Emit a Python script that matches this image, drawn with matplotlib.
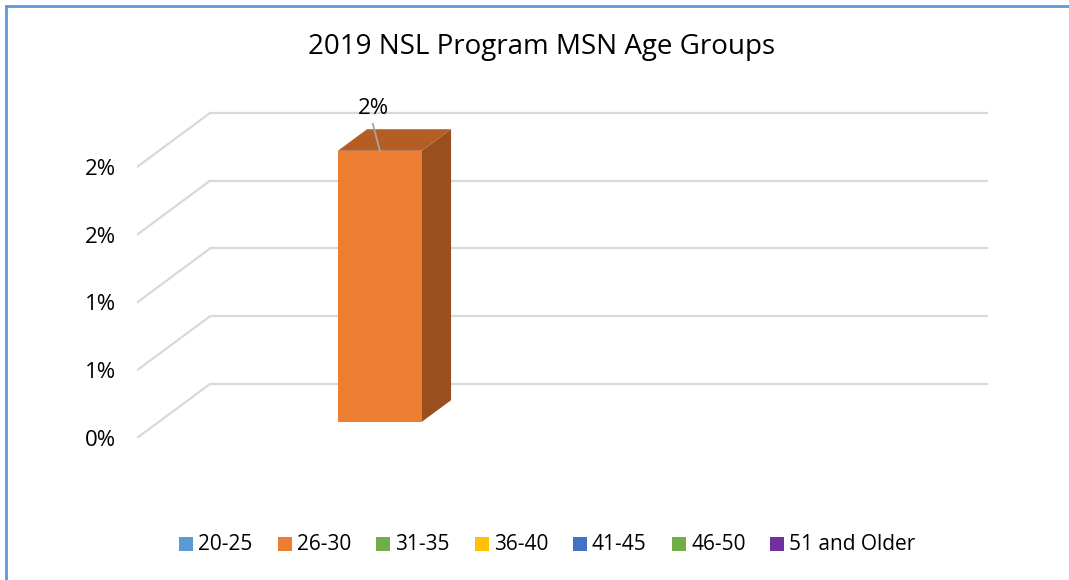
import matplotlib
matplotlib.use("Agg")
import matplotlib.pyplot as plt
from matplotlib.patches import Polygon, Rectangle
from matplotlib.lines import Line2D

# ---- data ----
title = "2019 NSL Program MSN Age Groups"
series_names = ["20-25", "26-30", "31-35", "36-40", "41-45", "46-50", "51 and Older"]
series_values = [None, 0.02, None, None, None, None, None]   # only 26-30 has a value
series_colors = ["#5B9BD5", "#ED7D31", "#70AD47", "#FFC000", "#4472C4", "#70AD47", "#7030A0"]
side_colors = ["#3F75A6", "#9A4F1E", "#527F33", "#BF9000", "#2F5597", "#527F33", "#52237A"]
top_colors = ["#4D86BB", "#B45E26", "#5F943D", "#D9A300", "#3A63AE", "#5F943D", "#612A8D"]
tick_values = [0.0, 0.005, 0.01, 0.015, 0.02]
tick_labels = ["0%", "1%", "1%", "2%", "2%"]
data_labels = ["", "2%", "", "", "", "", ""]

W, H, DPI = 1069, 580, 100
fig = plt.figure(figsize=(W / DPI, H / DPI), dpi=DPI)
fig.patch.set_facecolor("white")

FONT = ["Open Sans", "DejaVu Sans"]

# chart border (top + left visible)
fig.add_artist(Line2D([6 / W, 1.0], [1 - 6 / H, 1 - 6 / H], color="#5B9BD5", lw=2, transform=fig.transFigure))
fig.add_artist(Line2D([6 / W, 6 / W], [0, 1 - 6 / H], color="#5B9BD5", lw=2, transform=fig.transFigure))

# axes geometry (front plane: x 137->915 px, 0% at y=438, 2% at y=167)
px_per_unit_y = 271 / 0.02
x_left, x_right_back = 137, 988
front_w = 778
ymax = 0.0245
ax_h = ymax * px_per_unit_y
ax = fig.add_axes([x_left / W, (H - 438) / H, (x_right_back - x_left) / W, ax_h / H])
dx = 73 / front_w           # depth offset in x data units
dy = 54 / px_per_unit_y     # depth offset in y data units
ax.set_xlim(0, 1 + dx)
ax.set_ylim(0, ymax)
for s in ax.spines.values():
    s.set_visible(False)
ax.set_xticks([])
ax.set_yticks(tick_values)
ax.set_yticklabels(tick_labels, fontsize=16, family=FONT)
ax.tick_params(axis="y", length=0, pad=15, colors="black")
ax.set_facecolor("none")

grid_c = "#D9D9D9"
for v in tick_values:
    ax.plot([0, dx], [v, v + dy], color=grid_c, lw=1.6, solid_capstyle="round", zorder=1)
    ax.plot([dx, 1 + dx], [v + dy, v + dy], color=grid_c, lw=1.6, solid_capstyle="round", zorder=1)

# bars
n = len(series_names)
bw = 0.108
start = 0.122
d0, d1 = 0.3, 0.7
pxx = 1 / front_w
pxy = 1 / px_per_unit_y
for i, val in enumerate(series_values):
    if val is None:
        continue
    x0 = start + i * bw
    x1 = x0 + bw
    ox0, oy0 = d0 * dx, d0 * dy
    ox1, oy1 = d1 * dx, d1 * dy
    front = [(x0 + ox0, oy0), (x1 + ox0, oy0), (x1 + ox0, val + oy0), (x0 + ox0, val + oy0)]
    side = [(x1 + ox0, oy0), (x1 + ox1, oy1), (x1 + ox1, val + oy1), (x1 + ox0, val + oy0)]
    top = [(x0 + ox0, val + oy0), (x1 + ox0, val + oy0), (x1 + ox1, val + oy1), (x0 + ox1, val + oy1)]
    ax.add_patch(Polygon(side, closed=True, facecolor=side_colors[i], edgecolor="none", zorder=3))
    ax.add_patch(Polygon(top, closed=True, facecolor=top_colors[i], edgecolor="none", zorder=3))
    ax.add_patch(Polygon(front, closed=True, facecolor=series_colors[i], edgecolor="none", zorder=4))
    # data label with leader line
    fl = x0 + ox0
    ftop = val + oy0
    ax.plot([fl + 35 * pxx, fl + 42 * pxx], [ftop + 27 * pxy, ftop], color="#A6A6A6", lw=1.3, zorder=5)
    ax.text(fl + 36 * pxx, ftop + 42 * pxy, data_labels[i], ha="center", va="center",
            fontsize=16, family=FONT, zorder=6)

# title
fig.text(542 / W, 1 - 47 / H, title, ha="center", va="center", fontsize=20, family=FONT)

# legend
leg_x = [179, 278, 376, 475, 573, 672, 770]
leg_y = 543.5
for i, name in enumerate(series_names):
    fig.add_artist(Rectangle((leg_x[i] / W, (H - leg_y - 7) / H), 14 / W, 14 / H,
                             facecolor=series_colors[i], edgecolor="none", transform=fig.transFigure))
    fig.text((leg_x[i] + 19) / W, 1 - (leg_y + 1.5) / H, name, ha="left", va="center", fontsize=15, family=FONT)

fig.savefig("out.png", dpi=DPI)
